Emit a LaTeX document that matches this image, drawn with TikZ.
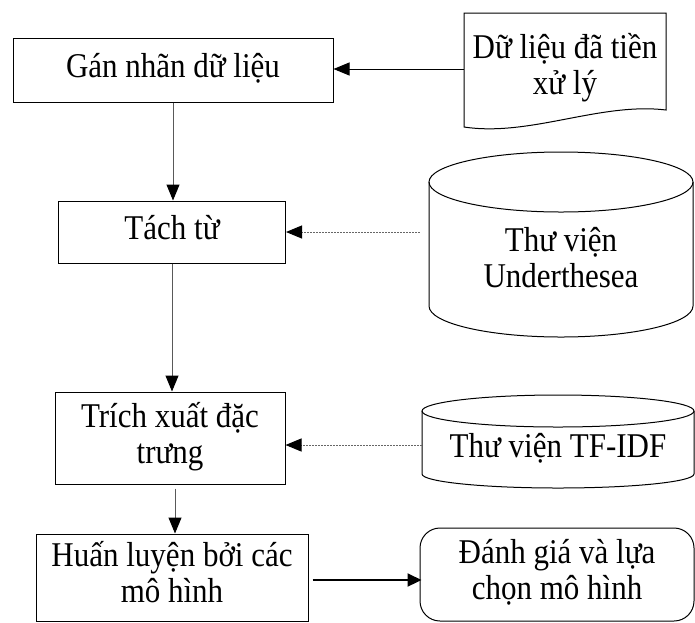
\documentclass[tikz,border=0pt]{standalone}
\usepackage{fontspec}
\usepackage{graphicx}
\setmainfont{Liberation Serif}
\usetikzlibrary{arrows.meta}
\newcommand{\vtext}[1]{\scalebox{1}[1.12]{\begin{tabular}{@{}c@{}}#1\end{tabular}}}
\begin{document}
\begin{tikzpicture}[x=1pt,y=-1pt,
  box/.style={draw, line width=1pt, rectangle, align=center, inner sep=0pt, font=\fontsize{31}{32}\selectfont},
  plain/.style={align=center, inner sep=0pt, font=\fontsize{31}{32}\selectfont},
  conn/.style={draw=black!65, line width=1pt, -{Triangle[length=16pt,width=13pt,color=black]}},
  dotconn/.style={draw=black!60, line width=1pt, dash pattern=on 1.5pt off 1.5pt, -{Triangle[length=16pt,width=13pt,color=black]}},
  thick/.style={draw=black, line width=2.2pt, -{Triangle[length=14pt,width=13pt]}},
  shapeline/.style={draw, line width=1pt}]
\useasboundingbox (0,0) rectangle (695,622);

% boxes
\node[box, minimum width=320pt, minimum height=64pt] (b1) at (173,70) {\vtext{Gán nhãn dữ liệu}};
\node[box, minimum width=227pt, minimum height=62pt] (b2) at (172,232) {\vtext{Tách từ}};
\node[box, minimum width=230pt, minimum height=92pt] (b3) at (170,438) {\vtext{Trích xuất đặc\\trưng}};
\node[box, minimum width=272pt, minimum height=87pt] (b4) at (172,577.5) {\vtext{Huấn luyện bởi các\\mô hình}};
\node[box, rounded corners=20pt, minimum width=274pt, minimum height=93pt] (b5) at (557,574.5) {\vtext{Đánh giá và lựa\\chọn mô hình}};

% document shape
\draw[shapeline] (464,127) -- (464,13) -- (666,13) -- (666,110)
  .. controls (600,102) and (530,137) .. (464,127) -- cycle;
\node[plain, minimum width=202pt] (doc) at (565,69) {\vtext{Dữ liệu đã tiền\\xử lý}};

% cylinder 1
\draw[shapeline] (429,182) -- (429,306) arc[start angle=180, end angle=360, x radius=132pt, y radius=31pt] -- (693,182);
\draw[shapeline] (561,182) ellipse[x radius=132pt, y radius=30pt];
\node[plain, minimum width=264pt] (cyl1) at (561,262) {\vtext{Thư viện\\Underthesea}};

% cylinder 2
\draw[shapeline] (422,411) -- (422,474) arc[start angle=180, end angle=360, x radius=136pt, y radius=14pt] -- (694,411);
\draw[shapeline] (558,411) ellipse[x radius=136pt, y radius=16pt];
\node[plain, minimum width=272pt] (cyl2) at (558,450) {\vtext{Thư viện TF-IDF}};

% connectors
\draw[conn] (b1.south) -- (b1.south |- b2.north);
\draw[conn] (b2.south) -- (b2.south |- b3.north);
\draw[conn] ([xshift=5pt,yshift=-4pt]b3.south) -- ([xshift=5pt]b3.south |- b4.north);
\draw[conn, draw=black] (doc.west) -- (doc.west -| b1.east);
\coordinate (t2) at (b2.east);
\draw[dotconn] ([xshift=-9pt]cyl1.west |- t2) -- (t2);
\coordinate (t3) at ([yshift=-7pt]b3.east);
\draw[dotconn] (cyl2.west |- t3) -- (t3);
\coordinate (t4) at ([yshift=-2.5pt]b4.east);
\draw[thick] ([xshift=4pt]t4) -- ([xshift=2pt]t4 -| b5.west);
\end{tikzpicture}
\end{document}
